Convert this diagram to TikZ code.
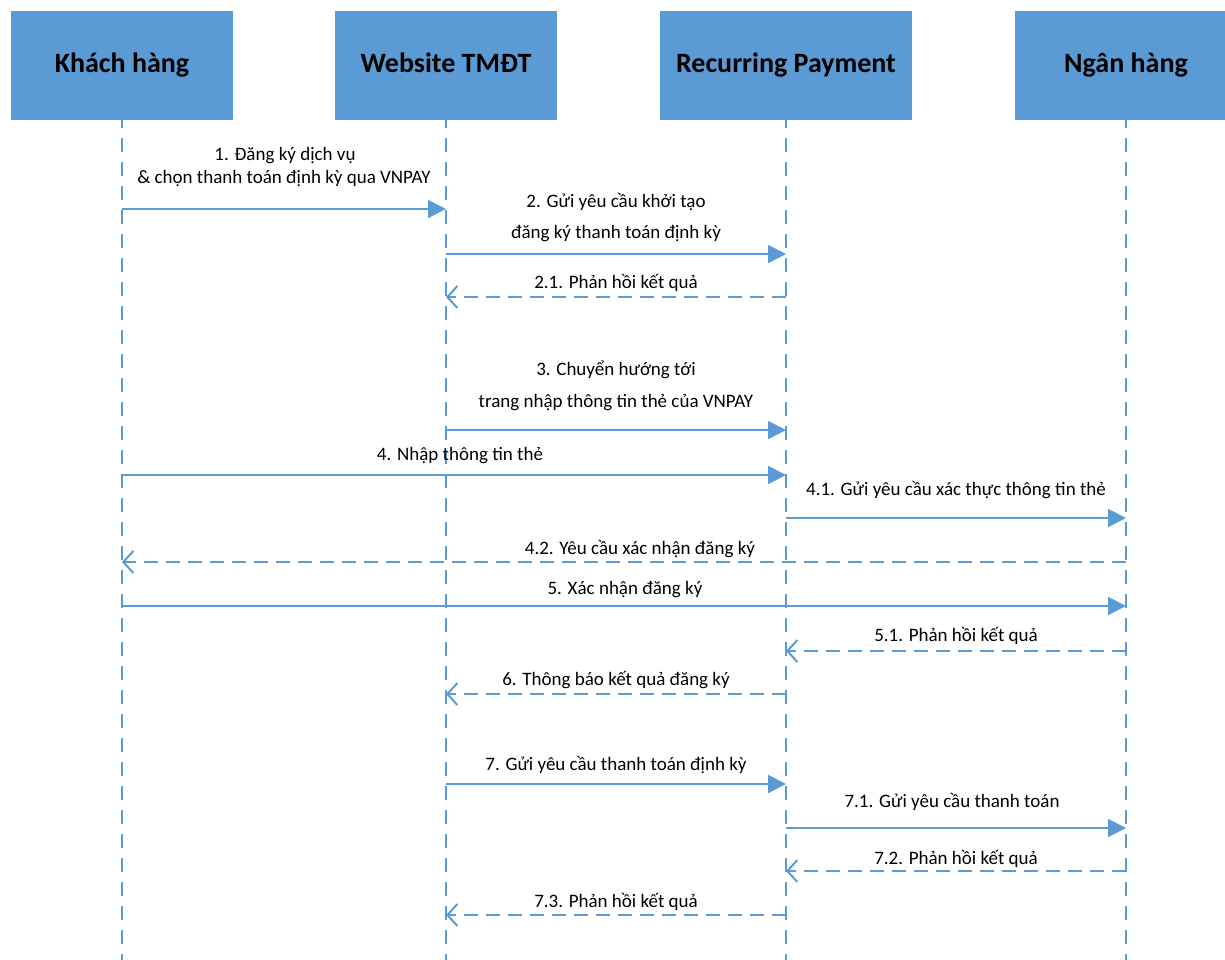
\documentclass[tikz,border=0pt]{standalone}
\usepackage{fontspec}
\setmainfont{Carlito}
\usetikzlibrary{arrows.meta}
\definecolor{lineblue}{HTML}{5B9BD5}
\begin{document}
\begin{tikzpicture}[x=1pt,y=-1pt,
  actor/.style={fill=lineblue, minimum height=109pt, inner sep=0pt,
    text height=20pt, text depth=6pt,
    font=\bfseries\fontsize{28}{32}\selectfont},
  life/.style={lineblue, line width=2pt, dash pattern=on 14pt off 10pt, dash phase=6pt},
  msg/.style={lineblue, line width=2pt, -{Triangle[length=18pt,width=18pt]}},
  reply/.style={lineblue, line width=2pt, dash pattern=on 14pt off 8pt,
    -{Straight Barb[length=10pt,width=22pt,line width=2pt]}},
  lbl/.style={font=\fontsize{19}{22}\selectfont, inner sep=0pt, anchor=base}]
\useasboundingbox (0,0) rectangle (1225,959);

% participants
\node[actor, minimum width=222pt] (kh) at (122,65.5) {Khách hàng};
\node[actor, minimum width=222pt] (web) at (446,65.5) {Website TMĐT};
\node[actor, minimum width=252pt] (rp) at (786,65.5) {Recurring Payment};
\node[actor, minimum width=222pt] (nh) at (1126,65.5) {Ngân hàng};

% lifelines
\foreach \p in {kh,web,rp,nh}
  \draw[life] (\p.south) -- ++(0,850);

% message rows
\foreach \n/\y in {m1/209, m2/254, m21/297, m3/430, m4/475, m41/518, m42/562,
  m5/606, m51/651, m6/694, m7/784, m71/828, m72/871, m73/915}
  \coordinate (\n) at (0,\y);

\draw[msg]   (kh |- m1)  -- (web |- m1);
\draw[msg]   (web |- m2) -- (rp |- m2);
\draw[reply] (rp |- m21) -- (web |- m21);
\draw[msg]   (web |- m3) -- (rp |- m3);
\draw[msg]   (kh |- m4)  -- (rp |- m4);
\draw[msg]   (rp |- m41) -- (nh |- m41);
\draw[reply] (nh |- m42) -- (kh |- m42);
\draw[msg]   (kh |- m5)  -- (nh |- m5);
\draw[reply] (nh |- m51) -- (rp |- m51);
\draw[reply] (rp |- m6)  -- (web |- m6);
\draw[msg]   (web |- m7) -- (rp |- m7);
\draw[msg]   (rp |- m71) -- (nh |- m71);
\draw[reply] (nh |- m72) -- (rp |- m72);
\draw[reply] (rp |- m73) -- (web |- m73);

% message labels
\node[lbl] (l1a) at (285,160) {1. Đăng ký dịch vụ};
\node[lbl] (l1b) at (284,183) {\& chọn thanh toán định kỳ qua VNPAY};
\node[lbl] (l2a) at (616,207) {2. Gửi yêu cầu khởi tạo};
\node[lbl] (l2b) at (616,238) {đăng ký thanh toán định kỳ};
\node[lbl] (l21) at (616,288) {2.1. Phản hồi kết quả};
\node[lbl] (l3a) at (616,375) {3. Chuyển hướng tới};
\node[lbl] (l3b) at (616,407) {trang nhập thông tin thẻ của VNPAY};
\node[lbl] (l4)  at (460,460) {4. Nhập thông tin thẻ};
\node[lbl] (l41) at (956,495) {4.1. Gửi yêu cầu xác thực thông tin thẻ};
\node[lbl] (l42) at (640,554) {4.2. Yêu cầu xác nhận đăng ký};
\node[lbl] (l5)  at (625,594) {5. Xác nhận đăng ký};
\node[lbl] (l51) at (956,641) {5.1. Phản hồi kết quả};
\node[lbl] (l6)  at (616,685) {6. Thông báo kết quả đăng ký};
\node[lbl] (l7)  at (616,770) {7. Gửi yêu cầu thanh toán định kỳ};
\node[lbl] (l71) at (952,807) {7.1. Gửi yêu cầu thanh toán};
\node[lbl] (l72) at (956,864) {7.2. Phản hồi kết quả};
\node[lbl] (l73) at (616,907) {7.3. Phản hồi kết quả};
\end{tikzpicture}
\end{document}
